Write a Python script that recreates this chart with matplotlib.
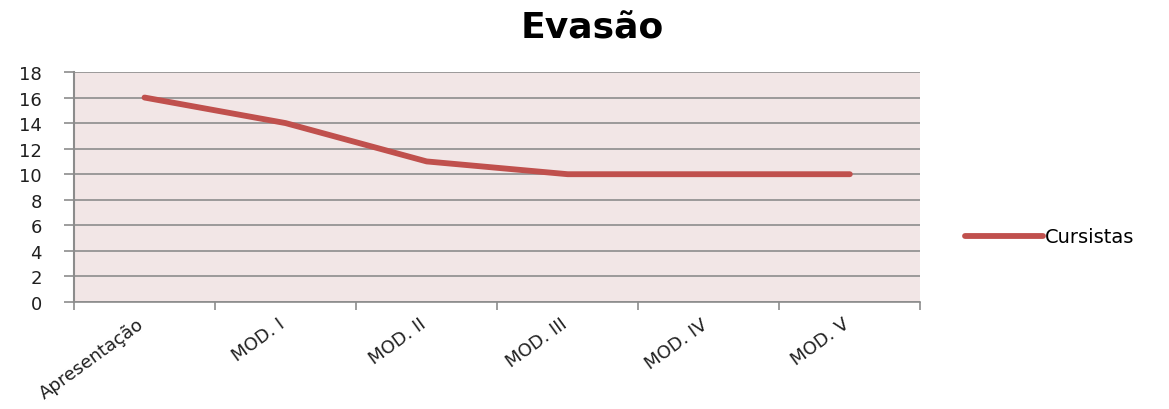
import matplotlib
matplotlib.use("Agg")
import matplotlib.pyplot as plt
import matplotlib.ticker as mticker
import matplotlib.transforms as mtransforms

# Data
categories = ["Apresentação", "MOD. I", "MOD. II", "MOD. III", "MOD. IV", "MOD. V"]
cursistas = [16, 14, 11, 10, 10, 10]

fig = plt.figure(figsize=(11.69, 4.10), dpi=100)
ax = fig.add_axes([0.0633, 0.261, 0.724, 0.561])
ax.set_facecolor('#F2E6E6')

x = range(len(categories))
ax.plot(x, cursistas, color='#C0504D', linewidth=4.2, solid_capstyle='round',
        label='Cursistas', zorder=3)

ax.set_xlim(-0.5, len(categories) - 0.5)
ax.set_ylim(0, 18)
ax.yaxis.set_major_locator(mticker.MultipleLocator(2))

# category labels centred, tick marks on boundaries
ax.set_xticks(list(x))
ax.set_xticklabels(categories, rotation=36, ha='right', rotation_mode='anchor',
                   fontsize=13, color='#1F1F1F')
ax.tick_params(axis='x', which='major', length=0, pad=9)
shift = mtransforms.ScaledTranslation(-8 / 100, 0, fig.dpi_scale_trans)
for lbl in ax.get_xticklabels():
    lbl.set_transform(lbl.get_transform() + shift)
ax.set_xticks([i - 0.5 for i in range(len(categories) + 1)], minor=True)
ax.tick_params(axis='x', which='minor', length=6, color='#8C8C8C', width=1.2)
ax.tick_params(axis='y', length=7, color='#8C8C8C', width=1.2, labelsize=13,
               labelcolor='#1F1F1F', pad=16)

ax.grid(axis='y', color='#8C8C8C', linewidth=1.2)
ax.set_axisbelow(True)

ax.spines['top'].set_visible(False)
ax.spines['right'].set_visible(False)
ax.spines['left'].set_color('#8C8C8C')
ax.spines['bottom'].set_color('#8C8C8C')
ax.spines['left'].set_linewidth(1.5)
ax.spines['bottom'].set_linewidth(1.2)

fig.text(0.507, 0.93, "Evasão", ha='center', va='center', fontsize=26,
         fontweight='bold', color='black')

ax.legend(loc='center left', bbox_to_anchor=(1.053, 0.283), frameon=False,
          fontsize=14, handlelength=4, handletextpad=0.1, borderpad=0,
          borderaxespad=0)

fig.savefig("out.png", dpi=100)
